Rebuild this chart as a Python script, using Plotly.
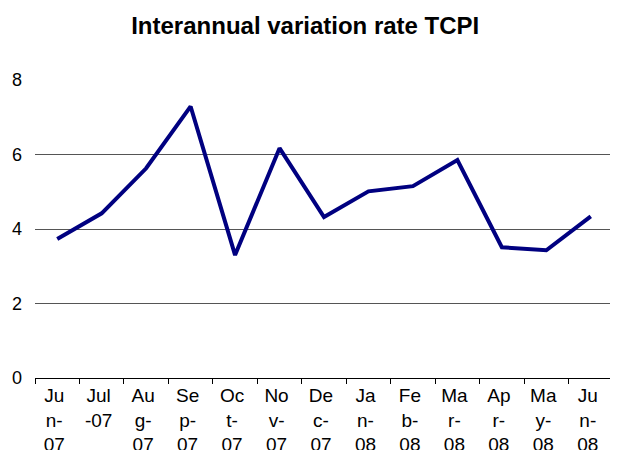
import plotly.graph_objects as go

months = ["Jun-07", "Jul-07", "Aug-07", "Sep-07", "Oct-07", "Nov-07", "Dec-07",
          "Jan-08", "Feb-08", "Mar-08", "Apr-08", "May-08", "Jun-08"]
tick_labels = ["Ju<br>n-<br>07", "Jul<br>-07", "Au<br>g-<br>07", "Se<br>p-<br>07",
               "Oc<br>t-<br>07", "No<br>v-<br>07", "De<br>c-<br>07", "Ja<br>n-<br>08",
               "Fe<br>b-<br>08", "Ma<br>r-<br>08", "Ap<br>r-<br>08", "Ma<br>y-<br>08",
               "Ju<br>n-<br>08"]
rate = [3.73, 4.42, 5.63, 7.29, 3.30, 6.17, 4.32, 5.01, 5.15, 5.85, 3.51, 3.43, 4.34]
y_ticks = [0, 2, 4, 6, 8]

fig = go.Figure()
fig.add_trace(go.Scatter(
    x=months, y=rate, mode="lines",
    line=dict(color="#000080", width=4),
    showlegend=False,
))

fig.update_layout(
    width=618, height=450,
    margin=dict(l=27, r=13, t=72, b=80),
    paper_bgcolor="white", plot_bgcolor="white",
    font=dict(family="Liberation Sans, Arial, sans-serif", size=18, color="black"),
    title=dict(text="<b>Interannual variation rate TCPI</b>", x=0.481, xanchor="center",
               y=0.962, yanchor="middle", font=dict(size=24)),
)
fig.update_xaxes(
    type="category", tickmode="array", tickvals=months, ticktext=tick_labels,
    tickson="boundaries", ticks="outside", ticklen=5, tickcolor="black",
    showline=True, linecolor="black", linewidth=1, showgrid=False,
    tickangle=0, range=[-0.5, 12.5], automargin=False,
    tickfont=dict(size=19), ticklabelshift=-3,
)
fig.update_yaxes(
    range=[0, 8], tickvals=y_ticks, showgrid=True, gridcolor="#555555", gridwidth=1,
    zeroline=False, showline=False, ticks="", ticklabelstandoff=12, automargin=False,
    tickfont=dict(size=18),
)

fig.write_html("out.html")
